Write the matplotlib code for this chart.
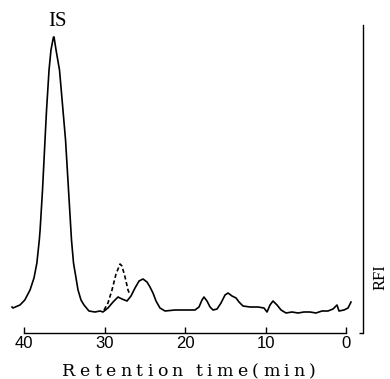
import matplotlib
matplotlib.use("Agg")
import matplotlib.pyplot as plt


# chromatogram trace (retention time in min, detector signal in arbitrary units)
time_solid = [41.49, 41.37, 40.5, 39.9, 39.25, 38.76, 38.4, 38.1, 38.0, 37.70,
              37.39, 37.20, 36.89, 36.65, 36.34, 36.27, 36.02, 35.59, 35.16, 34.84,
              34.47, 34.10, 33.85, 33.29, 32.92, 32.55, 31.93, 31.18, 30.56, 30.19,
              29.57, 28.94, 28.32, 27.83, 27.2, 26.71, 26.21, 25.71, 25.22, 24.72,
              24.35, 23.98, 23.6, 23.11, 22.48, 21.24, 20.0, 18.76, 18.26, 17.89,
              17.64, 17.27, 16.89, 16.52, 16.02, 15.53, 15.03, 14.66, 14.16, 13.66,
              13.29, 12.80, 11.93, 10.93, 10.19, 9.81, 9.44, 9.07, 8.57, 8.07,
              7.45, 6.71, 5.96, 5.22, 4.47, 3.73, 2.98, 2.24, 1.61, 1.12,
              0.87, 0.25, -0.25, -0.62]
signal_solid = [26, 25, 28, 33, 43, 55, 70, 93, 103, 143,
                193, 223, 263, 283, 296, 296, 283, 263, 223, 193,
                143, 93, 70, 43, 33, 28, 22, 21, 22, 21,
                25, 31, 36, 34, 32, 37, 45, 52, 54, 51,
                46, 40, 32, 25, 22, 23, 23, 23, 26, 33,
                36, 32, 26, 23, 24, 30, 38, 40, 37, 35,
                31, 27, 26, 26, 25, 21, 28, 32, 28, 23,
                20, 21, 20, 21, 21, 20, 22, 22, 24, 28,
                22, 23, 25, 31]

# dashed peak around 28 min
time_dash = [30.06, 29.57, 29.07, 28.57, 28.07, 27.83, 27.45, 27.08, 26.83]
signal_dash = [23, 30, 43, 59, 69, 67, 56, 43, 38]

xticks = [40, 30, 20, 10, 0]


def tracked_text(fig, s, x0, x1, y, **kw):
    # lay out characters one by one between x0 and x1 (pixels) with even extra spacing
    r = fig.canvas.get_renderer()
    widths = []
    for ch in s:
        t = fig.text(0, 0, "n" if ch == " " else ch, **kw)
        w = t.get_window_extent(r).width
        t.remove()
        widths.append(w * 0.3 if ch == " " else w)
    gap = (x1 - x0 - sum(widths)) / (len(s) - 1)
    W, H = fig.get_size_inches() * fig.dpi
    x = x0
    for ch, w in zip(s, widths):
        if ch != " ":
            fig.text(x / W, 1 - y / H, ch, ha="left", va="baseline", **kw)
        x += w + gap


fig = plt.figure(figsize=(3.9, 3.79), dpi=100)
W, H = 390, 379
left_px, right_px, top_px, bot_px = 7.9, 363, 20, 333
ax = fig.add_axes([left_px / W, 1 - bot_px / H, (right_px - left_px) / W, (bot_px - top_px) / H])

ax.plot(time_solid, signal_solid, color="black", lw=1.2, solid_joinstyle="round")
ax.plot(time_dash, signal_dash, color="black", lw=1.2, dashes=(2.5, 1.6))

ax.set_xlim(42, -2.11)
ax.set_ylim(0, 313)

ax.spines["top"].set_visible(False)
ax.spines["left"].set_visible(False)
ax.spines["bottom"].set_bounds(0, 40)
ax.spines["right"].set_bounds(0, 308)
ax.spines["bottom"].set_linewidth(1.0)
ax.spines["right"].set_linewidth(1.0)

ax.set_xticks(xticks)
ax.set_xticklabels([str(v) for v in xticks], family="Liberation Sans", fontsize=12)
ax.tick_params(axis="x", direction="in", length=4, width=1, pad=2)
ax.yaxis.set_ticks_position("right")
ax.set_yticks([0])
ax.tick_params(axis="y", direction="in", length=3, width=1, labelright=False)

ax.text(35.9, 311, "IS", ha="center", va="center", family="Liberation Serif", fontsize=15)

tracked_text(fig, "Retention time(min)", 62, 316, 376, family="DejaVu Serif", fontsize=12.5)
fig.text(389 / W, 1 - 277 / H, "RFI", rotation=90, ha="right", va="center",
         family="Liberation Serif", fontsize=12)

plt.savefig("out.png", dpi=100)
